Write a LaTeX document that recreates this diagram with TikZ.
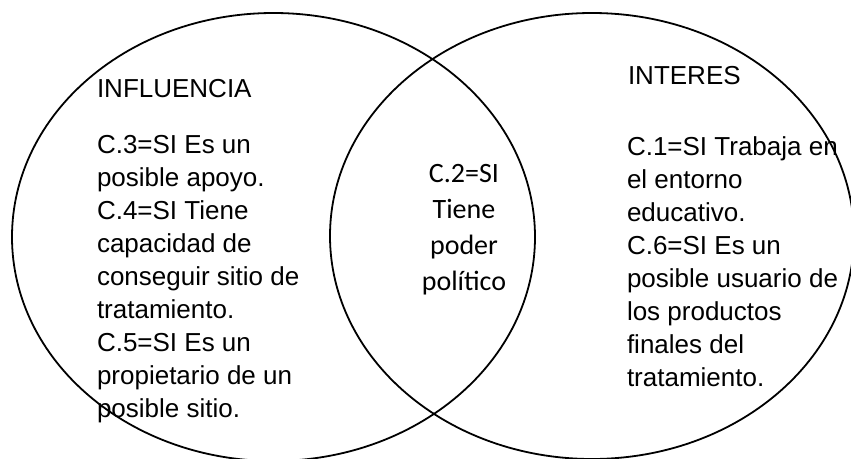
\documentclass[tikz,border=0pt]{standalone}
\usepackage{fontspec}
\setmainfont{Liberation Sans}
\newfontfamily\carlito{Carlito}
\usetikzlibrary{positioning}

\begin{document}
\begin{tikzpicture}[x=1pt, y=-1pt, every node/.style={inner sep=0pt, outer sep=0pt},
  set/.style={draw, line width=1.8pt},
  txt/.style={anchor=base west, align=left, font=\fontsize{26}{33}\selectfont},
  mid/.style={anchor=base, align=center, font=\carlito\fontsize{28}{36}\selectfont}]
\useasboundingbox[fill=white] (0,0) rectangle (851,458);
% the two sets
\draw[set] (273.5,237) ellipse [x radius=261.5pt, y radius=224pt];
\draw[set] (592,236) ellipse [x radius=262pt, y radius=223pt];
% left set (base = last line)
\node[txt] (influencia) at (97,97) {INFLUENCIA};
\node[txt] (influencialist) at (97,417) {C.3=SI Es un\\posible apoyo.\\C.4=SI Tiene\\capacidad de\\conseguir sitio de\\tratamiento.\\C.5=SI Es un\\propietario de un\\posible sitio.};
% right set
\node[txt] (interes) at (628,84) {INTERES};
\node[txt] (intereslist) at (627,386) {C.1=SI Trabaja en\\el entorno\\educativo.\\C.6=SI Es un\\posible usuario de\\los productos\\finales del\\tratamiento.};
% overlap
\node[mid] (ambos) at (464,290) {C.2=SI\\Tiene\\poder\\político};
\end{tikzpicture}
\end{document}
